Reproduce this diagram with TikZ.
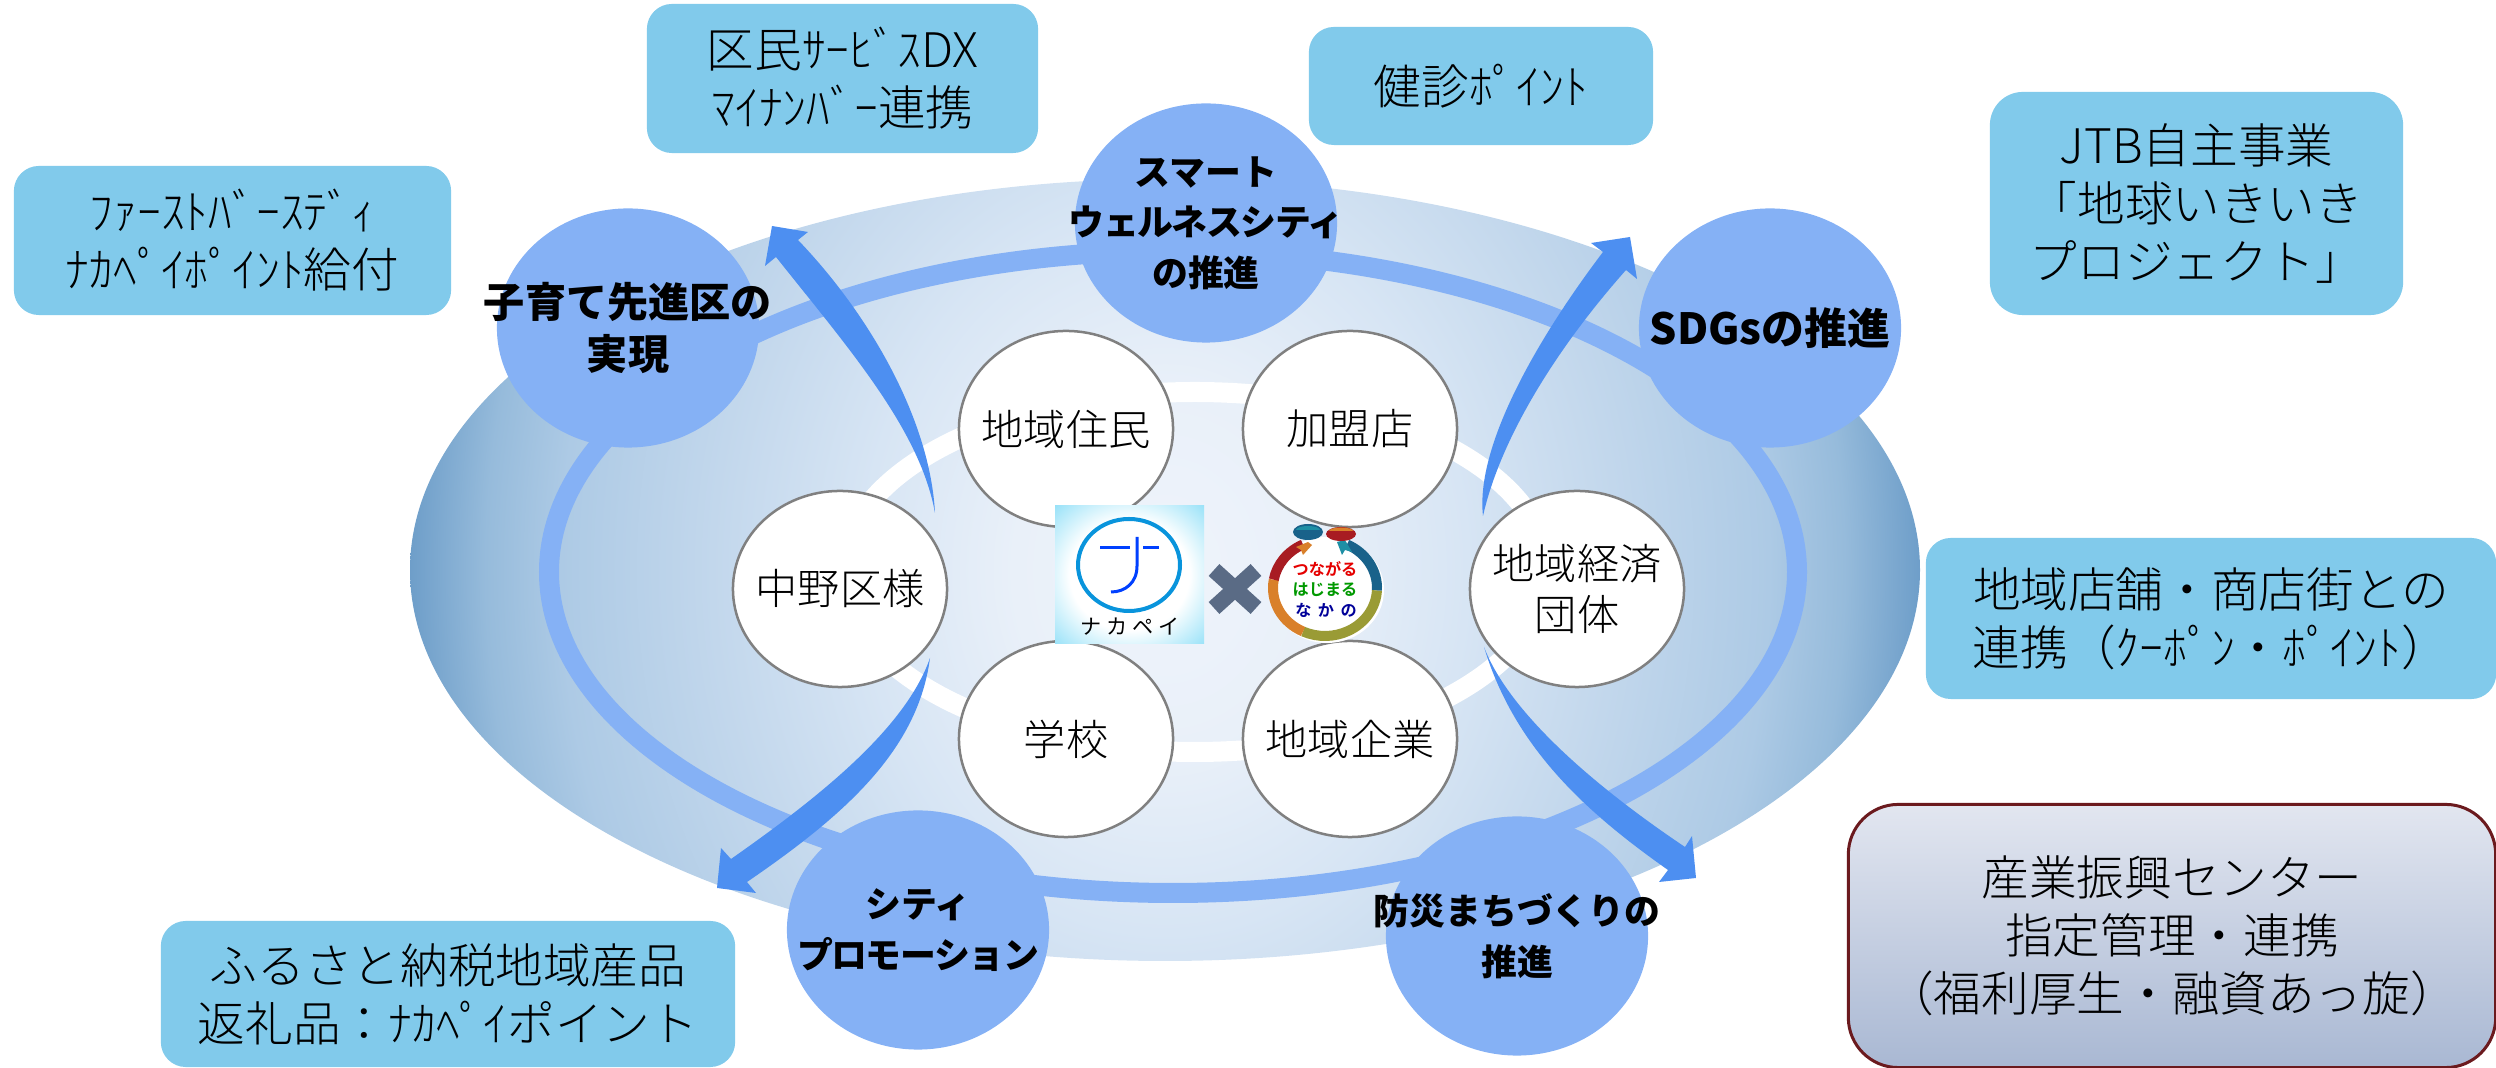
\documentclass[tikz,border=0pt]{standalone}
\usepackage{fontspec}
\setmainfont{Noto Sans CJK JP}[UprightFont=* Light,BoldFont=* Black]
\newfontfamily\logofont{Noto Sans CJK JP}[BoldFont=* Bold]
\usepackage{tikz}
\usetikzlibrary{shapes.geometric}
\definecolor{skybox}{HTML}{81CAEB}
\definecolor{themeblue}{HTML}{85B1F5}
\definecolor{wedgeblue}{HTML}{4D8FF1}
\definecolor{crossgrey}{HTML}{5A6B85}
\definecolor{rimred}{HTML}{6B1A1E}
\definecolor{boxtop}{HTML}{E2E6F0}
\definecolor{boxbottom}{HTML}{A9B8D3}
\definecolor{fielda}{HTML}{EFF4FB}
\definecolor{fieldb}{HTML}{E9F0F9}
\definecolor{fieldc}{HTML}{D7E5F4}
\definecolor{fieldd}{HTML}{C2D7EC}
\definecolor{fielde}{HTML}{ADCAE5}
\definecolor{fieldf}{HTML}{96BBDB}
\definecolor{fieldg}{HTML}{6E9EC9}
\definecolor{logorim}{HTML}{96E1F8}
\definecolor{ribbonblue}{HTML}{19628A}
\definecolor{ribbonolive}{HTML}{9A9B35}
\definecolor{ribbonorange}{HTML}{D9802A}
\definecolor{ribbonred}{HTML}{A81C22}
\definecolor{ribbonteal}{HTML}{1E8FA5}
\pgfdeclareradialshading{fieldshade}{\pgfpoint{0bp}{0bp}}{%
  color(0bp)=(fielda);
  color(5bp)=(fieldb);
  color(10bp)=(fieldc);
  color(15bp)=(fieldd);
  color(20bp)=(fielde);
  color(22.5bp)=(fieldf);
  color(25bp)=(fieldg);
  color(50bp)=(fieldg)}
\pgfdeclareradialshading{logoshade}{\pgfpoint{0bp}{0bp}}{%
  color(0bp)=(white);
  color(20bp)=(white);
  color(36bp)=(logorim);
  color(50bp)=(logorim)}
\newcommand{\tightline}[1]{{\addfontfeature{LetterSpace=-4}#1}}
\tikzset{sidebox/.style={
    % The shape:
    rectangle,rounded corners=0.25cm,
    inner sep=0pt,
    fill=skybox,
    % Font
    font=\fontsize{13.55pt}{16.5pt}\selectfont,
    align=center,
    },
    themenode/.style={
    ellipse,
    inner sep=0pt,
    minimum width=2.62cm,
    minimum height=2.39cm,
    fill=themeblue,
    },
    themetext/.style={
    inner sep=0pt,
    font=\bfseries\fontsize{10.2pt}{14.4pt}\selectfont,
    align=center,
    },
    partnode/.style={
    ellipse,
    inner sep=0pt,
    minimum width=2.14cm,
    minimum height=1.96cm,
    draw=black!50,
    line width=0.025cm,
    fill=white,
    },
    parttext/.style={
    inner sep=0pt,
    font=\fontsize{12pt}{14.6pt}\selectfont,
    align=center,
    },
    wedge/.style={fill=wedgeblue},
    ribbon/.style={line width=0.1cm},
    logotext/.style={inner sep=0pt,font=\logofont\bfseries\fontsize{4.6pt}{5pt}\selectfont},
}

\begin{document}
\begin{tikzpicture}[x=0.01cm,y=-0.01cm]
    \useasboundingbox (0,0) rectangle (2496,1068);

    % field and its two rings
    \begin{scope}
      \clip (1165,570) ellipse [x radius=755,y radius=391];
      \shade[shading=fieldshade] (1165,570) ellipse [x radius=755,y radius=906];
    \end{scope}
    \draw[themeblue,line width=0.2cm] (1173,572) ellipse [x radius=624,y radius=321];
    \draw[white,line width=0.2cm] (1195,572) ellipse [x radius=352,y radius=180];

    % curved arrows
    \coordinate (tailNW) at (935,513);
    \coordinate (tipNW)  at (772,226);
    \coordinate (tailSW) at (930,658);
    \coordinate (tipSW)  at (717,888);
    \coordinate (tailNE) at (1483,516);
    \coordinate (tipNE)  at (1630,237);
    \coordinate (tailSE) at (1484,647);
    \coordinate (tipSE)  at (1696,878);
    \fill[wedge] (tailNW) .. controls (920,430) and (850,350) .. (776,257) -- (765,266)
        -- (tipNW) -- (808,232) -- (798,240) .. controls (870,315) and (930,420) .. (tailNW);
    \fill[wedge] (tailSW) .. controls (905,730) and (815,800) .. (731,859) -- (721,848)
        -- (tipSW) -- (756,893) -- (747,882) .. controls (845,815) and (918,750) .. (tailSW);
    \fill[wedge] (tailNE) .. controls (1475,445) and (1540,335) .. (1603,252) -- (1591,243)
        -- (tipNE) -- (1637,279) -- (1626,270) .. controls (1555,350) and (1500,440) .. (tailNE);
    \fill[wedge] (tailSE) .. controls (1510,715) and (1600,790) .. (1685,847) -- (1692,836)
        -- (tipSE) -- (1659,882) -- (1668,870) .. controls (1590,815) and (1515,750) .. (tailSE);

    % themes
    \node (kosodate) [themenode,label={[themetext,font=\bfseries\fontsize{11.7pt}{15pt}\selectfont]center:子育て先進区の\\実現}] at (628,328) {};
    \node (smart)    [themenode,label={[themetext]center:スマート\\\tightline{ウェルネスシティ}\\の推進}] at (1206,223) {};
    \node (sdgs)     [themenode,label={[themetext,font=\bfseries\fontsize{12.2pt}{14pt}\selectfont]center:SDGsの推進}] at (1770,328) {};
    \node (city)     [themenode,label={[themetext]center:シティ\\\tightline{プロモーション}}] at (918,930) {};
    \node (bousai)   [themenode,label={[themetext]center:防災まちづくりの\\推進}] at (1517,936) {};

    % partners
    \node (nakano)   [partnode,label={[parttext]center:中野区様}] at (840,589) {};
    \node (jumin)    [partnode,label={[parttext]center:地域住民}] at (1066,429) {};
    \node (gakko)    [partnode,label={[parttext]center:学校}] at (1066,739) {};
    \node (kamei)    [partnode,label={[parttext]center:加盟店}] at (1350,429) {};
    \node (kigyo)    [partnode,label={[parttext]center:地域企業}] at (1350,739) {};
    \node (keizai)   [partnode,label={[parttext]center:地域経済\\団体}] at (1577,589) {};

    % outer boxes
    \node (dx)      [sidebox,minimum width=3.91cm,minimum height=1.49cm] at (842.5,78.5) {区民ｻｰﾋﾞｽDX\\ﾏｲﾅﾝﾊﾞｰ連携};
    \node (birth)   [sidebox,minimum width=4.37cm,minimum height=1.49cm] at (232.5,240.5) {ﾌｧｰｽﾄﾊﾞｰｽﾃﾞｨ\\ﾅｶﾍﾟｲﾎﾟｲﾝﾄ給付};
    \node (kenshin) [sidebox,minimum width=3.44cm,minimum height=1.18cm] at (1481,86) {健診ﾎﾟｲﾝﾄ};
    \node (jtb)     [sidebox,rounded corners=0.33cm,minimum width=4.13cm,minimum height=2.23cm] at (2196.5,203.5) {JTB自主事業\\「地球いきいき\\プロジェクト」};
    \node (shoten)  [sidebox,minimum width=5.70cm,minimum height=1.61cm] at (2211,618.5) {地域店舗・商店街との\\連携（ｸｰﾎﾟﾝ・ﾎﾟｲﾝﾄ）};
    \node (furusato)[sidebox,minimum width=5.74cm,minimum height=1.46cm] at (448,994) {ふるさと納税地域産品\\返礼品：ﾅｶﾍﾟｲポイント};
    \node (sangyo)  [sidebox,rounded corners=0.5cm,minimum width=6.47cm,minimum height=2.63cm,
        top color=boxtop,bottom color=boxbottom,
        draw=rimred,line width=0.03cm] at (2172,936) {産業振興センター\\指定管理・連携\\（福利厚生・融資あっ旋）};

    % pay logo
    \shade[shading=logoshade] (1055,506) rectangle (1204,644);
    \draw[cyan!80!blue,line width=0.04cm] (1129,565) ellipse [x radius=51,y radius=46];
    \draw[blue!75!cyan,line width=0.03cm] (1100,548) -- (1130,548) (1143,548) -- (1159,548);
    \draw[blue!75!cyan,line width=0.03cm] (1137,537) -- (1137,566) .. controls (1137,583) and (1125,592) .. (1111,592);
    \node (paytext) [inner sep=0pt,font=\logofont\addfontfeature{LetterSpace=22}\fontsize{6pt}{6.5pt}\selectfont] at (1130,627) {ナカペイ};

    % cross
    \draw[crossgrey,line width=0.16cm] (1214,570) -- (1256,608) (1256,570) -- (1214,608);

    % ward logo
    \fill[white] (1327,590) ellipse [x radius=57,y radius=53];
    \foreach \a/\b/\c in {-65/3/ribbonblue,3/115/ribbonolive,115/190/ribbonorange,190/245/ribbonred}
      \draw[ribbon,\c] ({1325+52*cos(\a)},{588+48*sin(\a)}) arc [start angle=\a,end angle=\b,x radius=52,y radius=48];
    \fill[ribbonorange] (1296,547) -- (1308,542) -- (1312,545) -- (1303,555) -- (1301,550) -- cycle;
    \fill[ribbonteal] (1337,542) -- (1345,540) -- (1352,552) -- (1345,550) -- (1342,555) -- cycle;
    \fill[ribbonblue] (1308,532) ellipse [x radius=15,y radius=8];
    \fill[ribbonteal] (1296,530) arc [start angle=180,end angle=360,x radius=12,y radius=4] -- cycle;
    \fill[ribbonred] (1341,534) ellipse [x radius=15,y radius=7];
    \fill[ribbonorange] (1329,531) arc [start angle=180,end angle=360,x radius=12,y radius=3.5] -- cycle;
    \node (tsunagaru) [logotext,text=red!90!black] at (1325,569) {つながる};
    \node (hajimaru)  [logotext,text=green!60!black] at (1325,590) {はじまる};
    \node (nakanoro)  [logotext,text=blue!60!black,font=\logofont\bfseries\addfontfeature{LetterSpace=40}\fontsize{4.6pt}{5pt}\selectfont] at (1326,610) {なかの};
\end{tikzpicture}
\end{document}
